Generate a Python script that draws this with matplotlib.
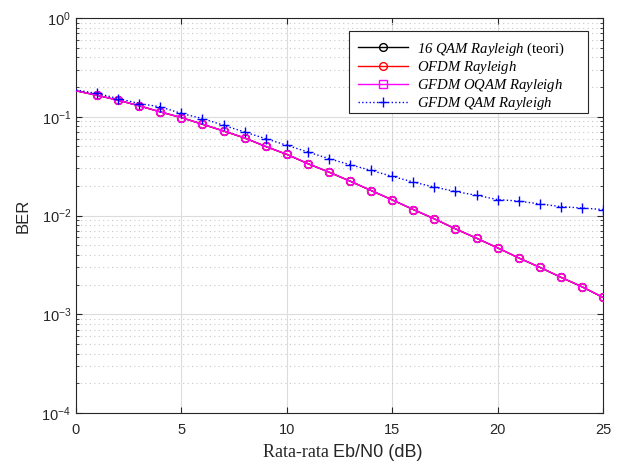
import matplotlib
matplotlib.use("Agg")
import matplotlib.pyplot as plt
from matplotlib.lines import Line2D
from matplotlib.patches import Rectangle
from matplotlib.ticker import LogLocator, NullFormatter, MultipleLocator

plt.rcParams['font.family'] = ['Liberation Sans', 'DejaVu Sans']
plt.rcParams['mathtext.fontset'] = 'custom'
plt.rcParams['mathtext.it'] = 'Liberation Serif:italic'
plt.rcParams['mathtext.rm'] = 'Liberation Serif:italic'

ebn0 = list(range(0, 26))
ber_theory = [0.183, 0.165, 0.147, 0.129, 0.112, 0.098, 0.084, 0.0718, 0.061, 0.050,
              0.0416, 0.0335, 0.0275, 0.0223, 0.0179, 0.0144, 0.0115, 0.00925, 0.00733,
              0.00589, 0.0047, 0.00372, 0.00299, 0.00237, 0.0019, 0.00148]
ber_ofdm = [0.183, 0.165, 0.147, 0.129, 0.112, 0.098, 0.084, 0.0718, 0.061, 0.050,
            0.0416, 0.0335, 0.0275, 0.0223, 0.0179, 0.0144, 0.0115, 0.00925, 0.00733,
            0.00589, 0.0047, 0.00372, 0.00299, 0.00237, 0.0019, 0.00148]
ber_gfdm_oqam = [0.183, 0.165, 0.147, 0.129, 0.112, 0.098, 0.084, 0.0718, 0.061, 0.050,
                 0.0416, 0.0335, 0.0275, 0.0223, 0.0179, 0.0144, 0.0115, 0.00925, 0.00733,
                 0.00589, 0.0047, 0.00372, 0.00299, 0.00237, 0.0019, 0.00148]
ber_gfdm_qam = [0.187, 0.172, 0.153, 0.136, 0.126, 0.108, 0.096, 0.082, 0.070, 0.060,
                0.0514, 0.044, 0.0376, 0.0327, 0.0286, 0.0249, 0.0218, 0.0194, 0.0175,
                0.016, 0.0145, 0.014, 0.0131, 0.0123, 0.0119, 0.0115]

labels = [r"$\mathit{16\ QAM\ Rayleigh}$ (teori)",
          r"$\mathit{OFDM\ Rayleigh}$",
          r"$\mathit{GFDM\ OQAM\ Rayleigh}$",
          r"$\mathit{GFDM\ QAM\ Rayleigh}$"]

W, H = 622, 466
fig = plt.figure(figsize=(W/100, H/100), dpi=100)
ax = fig.add_axes([76/W, 1-413/H, (603-76)/W, (413-18)/H])

mk = list(range(1, 26))
ms = 5.6
ax.plot(ebn0, ber_theory, '-o', color='black', lw=1.0, ms=ms, mfc='none', markevery=mk, zorder=3)
ax.plot(ebn0, ber_ofdm, '-o', color='red', lw=1.0, ms=ms, mfc='none', markevery=mk, zorder=3.1)
ax.plot(ebn0, ber_gfdm_oqam, '-o', color='magenta', lw=1.0, ms=ms, mfc='none', markevery=mk, zorder=3.2)
ax.plot(ebn0, ber_gfdm_qam, ':+', color='blue', lw=1.0, ms=7.8, mew=1.0, markevery=mk, zorder=3.3)

ax.set_yscale('log')
ax.set_xlim(0, 25)
ax.set_ylim(1e-4, 1)
ax.xaxis.set_major_locator(MultipleLocator(5))
ax.yaxis.set_major_locator(LogLocator(base=10, numticks=10))
ax.yaxis.set_minor_locator(LogLocator(base=10, subs=range(2, 10), numticks=20))
ax.yaxis.set_minor_formatter(NullFormatter())

ax.grid(True, which='major', color='#dcdcdc', linestyle='-', linewidth=0.8)
ax.grid(True, which='minor', axis='y', color='#c8c8c8', linestyle=(0, (1, 3)), linewidth=0.8)
ax.set_axisbelow(True)

for s in ax.spines.values():
    s.set_color('#262626')
    s.set_linewidth(0.8)
ax.tick_params(which='both', direction='in', top=True, right=True, colors='#262626',
               labelcolor='#262626', labelsize=10.5)
ax.tick_params(which='major', length=4)
ax.tick_params(which='minor', length=2.5)
ax.tick_params(axis='x', pad=7)

ax.set_ylabel('BER', fontsize=12, color='#262626', labelpad=8)

# mixed-font x label
xs = (333 - 76) / 527
ax.text(xs, -0.101, 'Rata-rata ', transform=ax.transAxes, ha='right', va='center',
        fontsize=13, family='Liberation Serif', color='#262626')
ax.text(xs, -0.101, 'Eb/N0 (dB)', transform=ax.transAxes, ha='left', va='center',
        fontsize=13, family='Liberation Sans', color='#262626')

# legend box (frame drawn separately to match width)
box = Rectangle((349/W, 1-113/H), (588-349)/W, (113-31)/H, transform=fig.transFigure,
                facecolor='white', edgecolor='#262626', linewidth=0.8, zorder=9)
fig.add_artist(box)

handles = [Line2D([], [], color='black', marker='o', mfc='none', lw=1.0, ms=ms),
           Line2D([], [], color='red', marker='o', mfc='none', lw=1.0, ms=ms),
           Line2D([], [], color='magenta', marker='s', mfc='none', lw=1.0, ms=ms),
           Line2D([], [], color='blue', marker='+', ls=':', lw=1.0, ms=7.8)]
leg = fig.legend(handles, labels, loc='upper left',
                 bbox_to_anchor=(354/W, 1-36/H), bbox_transform=fig.transFigure,
                 prop={'family': 'Liberation Serif', 'size': 10.6}, frameon=False,
                 handlelength=3.35, labelspacing=0.07, borderpad=0.3,
                 handletextpad=0.6, borderaxespad=0)
leg.set_zorder(10)

fig.savefig('out.png', dpi=100)
